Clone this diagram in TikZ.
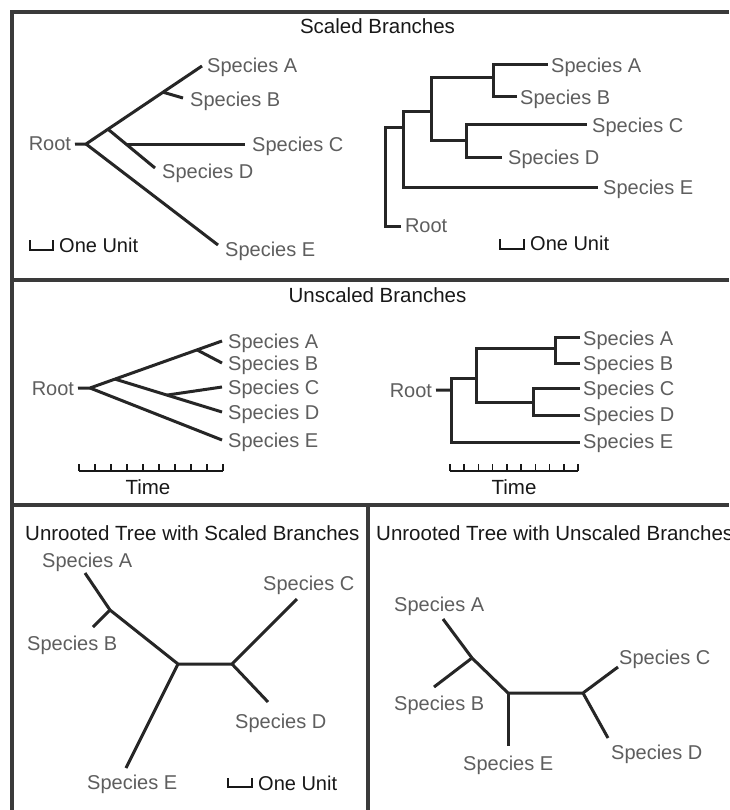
\documentclass[tikz,border=0pt]{standalone}
\usepackage{fontspec}
\setmainfont{Liberation Sans}
\usetikzlibrary{calc}
\definecolor{lab}{HTML}{5E5E5E}
\definecolor{ink}{HTML}{181818}
\definecolor{frame}{HTML}{3A3A3A}
\definecolor{br}{HTML}{262626}
\begin{document}
\begin{tikzpicture}[x=1pt,y=-1pt,
  sp/.style={inner sep=0pt, text=lab, font=\fontsize{20}{24}\selectfont, anchor=base west},
  rootlab/.style={sp, anchor=base east, outer xsep=4pt},
  ttl/.style={inner sep=0pt, text=ink, font=\fontsize{20.5}{24}\selectfont, anchor=base},
  blk/.style={inner sep=0pt, text=ink, font=\fontsize{20}{24}\selectfont, anchor=base west},
  branch/.style={draw=br, line width=3pt, line cap=butt, line join=miter},
  scalebar/.style={draw=ink, line width=1.6pt, line join=miter},
  frm/.style={draw=frame, line width=4pt}]
\useasboundingbox (0,0) rectangle (729,810);
\clip (0,0) rectangle (729,810);
\fill[white] (0,0) rectangle (729,810);

% ---------- frame ----------
\coordinate (fTR) at (729,12);
\coordinate (fTL) at (11.5,12);
\coordinate (fBL) at (11.5,810);
\coordinate (f1L) at (11.5,280);
\coordinate (f1R) at (729,280);
\coordinate (f2L) at (11.5,505);
\coordinate (f2R) at (729,505);
\coordinate (fMt) at (368,505);
\coordinate (fMb) at (368,810);
\draw[frm] (fTR) -- (fTL) -- (fBL);
\draw[frm] (f1L) -- (f1R);
\draw[frm] (f2L) -- (f2R);
\draw[frm] (fMt) -- (fMb);

% ---------- titles ----------
\node[ttl] (t1) at (377.5,34) {Scaled Branches};
\node[ttl] (t2) at (377.5,302) {Unscaled Branches};
\node[ttl, anchor=base west] (t3) at (25,540) {Unrooted Tree with Scaled Branches};
\node[ttl, anchor=base west] (t4) at (376,540) {Unrooted Tree with Unscaled Branches};

% ---------- top-left: scaled, diagonal ----------
\node[rootlab] (tlRoot) at (75,151) {Root};
\coordinate (tlR) at (86,144);
\coordinate (tlAe) at (202,66);
\coordinate (tlN1) at (108,129.2);
\coordinate (tlDe) at (155,168);
\coordinate (tlCn) at (126,144.1);
\coordinate (tlCe) at (245,144.1);
\coordinate (tlBn) at (163,92.2);
\coordinate (tlBe) at (183,98);
\coordinate (tlEe) at (218,245);
\draw[branch] (tlRoot.east) -- (tlR) -- (tlAe);
\draw[branch] (tlR) -- (tlEe);
\draw[branch] (tlN1) -- (tlDe);
\draw[branch] (tlCn) -- (tlCe);
\draw[branch] (tlBn) -- (tlBe);
\node[sp] (tlA) at (207,73) {Species A};
\node[sp] (tlB) at (190,107) {Species B};
\node[sp] (tlC) at (252,152) {Species C};
\node[sp] (tlD) at (162,179) {Species D};
\node[sp] (tlE) at (225,256) {Species E};
\coordinate (tlu1) at (30,240);
\coordinate (tlu2) at (30,250);
\coordinate (tlu3) at (53,250);
\coordinate (tlu4) at (53,240);
\draw[scalebar] (tlu1) -- (tlu2) -- (tlu3) -- (tlu4);
\node[blk] (tlUnit) at (59,252) {One Unit};

% ---------- top-right: scaled, rectangular ----------
\node[sp, outer xsep=4pt] (trRoot) at (401,233) {Root};
\coordinate (trR1) at (385,128);
\coordinate (trN1) at (403,128);
\coordinate (trV1t) at (403,112);
\coordinate (trV1b) at (403,188);
\coordinate (trEe) at (598,188);
\coordinate (trN2) at (431,112);
\coordinate (trV2t) at (431,78);
\coordinate (trV2b) at (431,141);
\coordinate (trN3) at (493,78);
\coordinate (trAt) at (493,65);
\coordinate (trBb) at (493,97);
\coordinate (trAe) at (548,65);
\coordinate (trBe) at (517,97);
\coordinate (trN4) at (466,141);
\coordinate (trCt) at (466,125);
\coordinate (trDb) at (466,158);
\coordinate (trCe) at (587,125);
\coordinate (trDe) at (502,158);
\draw[branch] (trRoot.west) -| (trR1) -- (trN1);
\draw[branch] (trN2) -- (trV1t) -- (trV1b) -- (trEe);
\draw[branch] (trN3) -- (trV2t) -- (trV2b) -- (trN4);
\draw[branch] (trBe) -- (trBb) -- (trAt) -- (trAe);
\draw[branch] (trDe) -- (trDb) -- (trCt) -- (trCe);
\node[sp] (trA) at (551,73) {Species A};
\node[sp] (trB) at (520,105) {Species B};
\node[sp] (trC) at (592,133) {Species C};
\node[sp] (trD) at (508,165) {Species D};
\node[sp] (trE) at (603,195) {Species E};
\coordinate (tru1) at (500,239);
\coordinate (tru2) at (500,249);
\coordinate (tru3) at (524,249);
\coordinate (tru4) at (524,239);
\draw[scalebar] (tru1) -- (tru2) -- (tru3) -- (tru4);
\node[blk] (trUnit) at (530,251) {One Unit};

% ---------- middle-left: unscaled, diagonal ----------
\node[rootlab] (mlRoot) at (78,395) {Root};
\coordinate (mlR) at (90,388);
\coordinate (mlAe) at (222,341);
\coordinate (mlCDn) at (115,379.1);
\coordinate (mlDe) at (222,412);
\coordinate (mlCn) at (167,395.1);
\coordinate (mlCe) at (222,387);
\coordinate (mlBn) at (197,349.9);
\coordinate (mlBe) at (222,363);
\coordinate (mlEe) at (222,440);
\draw[branch] (mlRoot.east) -- (mlR) -- (mlAe);
\draw[branch] (mlR) -- (mlEe);
\draw[branch] (mlCDn) -- (mlDe);
\draw[branch] (mlCn) -- (mlCe);
\draw[branch] (mlBn) -- (mlBe);
\node[sp] (mlA) at (228,348) {Species A};
\node[sp] (mlB) at (228,370) {Species B};
\node[sp] (mlC) at (228,394) {Species C};
\node[sp] (mlD) at (228,419) {Species D};
\node[sp] (mlE) at (228,447) {Species E};
\coordinate (mls0) at (79,471);
\coordinate (mls1) at (223,471);
\draw[scalebar] (mls0) -- (mls1);
\foreach \k in {0,...,9} {\draw[scalebar] ($(mls0)+(16*\k,0)$) -- ++(0,-7);}
\node[ttl] (mlTime) at (148,494) {Time};

% ---------- middle-right: unscaled, rectangular ----------
\node[rootlab] (mrRoot) at (436,397) {Root};
\coordinate (mrR) at (451,390);
\coordinate (mrV0t) at (451,378);
\coordinate (mrV0b) at (451,442);
\coordinate (mrN1) at (476,378);
\coordinate (mrEe) at (580,442);
\coordinate (mrV1t) at (476,348);
\coordinate (mrV1b) at (476,402);
\coordinate (mrN2) at (555,348);
\coordinate (mrN3) at (533,402);
\coordinate (mrAt) at (555,337);
\coordinate (mrBb) at (555,363);
\coordinate (mrAe) at (580,337);
\coordinate (mrBe) at (580,363);
\coordinate (mrCt) at (533,388);
\coordinate (mrDb) at (533,415);
\coordinate (mrCe) at (580,388);
\coordinate (mrDe) at (580,415);
\draw[branch] (mrRoot.east) -- (mrR);
\draw[branch] (mrN1) -- (mrV0t) -- (mrV0b) -- (mrEe);
\draw[branch] (mrN2) -- (mrV1t) -- (mrV1b) -- (mrN3);
\draw[branch] (mrBe) -- (mrBb) -- (mrAt) -- (mrAe);
\draw[branch] (mrDe) -- (mrDb) -- (mrCt) -- (mrCe);
\node[sp] (mrA) at (583,345) {Species A};
\node[sp] (mrB) at (583,370) {Species B};
\node[sp] (mrC) at (583,395) {Species C};
\node[sp] (mrD) at (583,421) {Species D};
\node[sp] (mrE) at (583,448) {Species E};
\coordinate (mrs0) at (450,471);
\coordinate (mrs1) at (578,471);
\draw[scalebar] (mrs0) -- (mrs1);
\foreach \k in {0,...,9} {\draw[scalebar] ($(mrs0)+(14.222*\k,0)$) -- ++(0,-7);}
\node[ttl] (mrTime) at (514,494) {Time};

% ---------- bottom-left: unrooted, scaled ----------
\coordinate (blN1) at (178,664);
\coordinate (blN2) at (232,664);
\coordinate (blAe) at (85,573);
\coordinate (blABn) at (110,610);
\coordinate (blBe) at (93,627);
\coordinate (blCe) at (297,599);
\coordinate (blDe) at (268,702);
\coordinate (blEe) at (126,768);
\draw[branch] (blAe) -- (blABn) -- (blN1) -- (blN2) -- (blCe);
\draw[branch] (blABn) -- (blBe);
\draw[branch] (blN1) -- (blEe);
\draw[branch] (blN2) -- (blDe);
\node[sp] (blA) at (42,567) {Species A};
\node[sp] (blB) at (27,650) {Species B};
\node[sp] (blC) at (263,590) {Species C};
\node[sp] (blD) at (235,728) {Species D};
\node[sp] (blE) at (87,789) {Species E};
\coordinate (blu1) at (228,778);
\coordinate (blu2) at (228,787);
\coordinate (blu3) at (252,787);
\coordinate (blu4) at (252,778);
\draw[scalebar] (blu1) -- (blu2) -- (blu3) -- (blu4);
\node[blk] (blUnit) at (258,790) {One Unit};

% ---------- bottom-right: unrooted, unscaled ----------
\coordinate (brAe) at (443,619);
\coordinate (brABn) at (472,658);
\coordinate (brBe) at (434,687);
\coordinate (brN1) at (508,693);
\coordinate (brN2) at (583,693);
\coordinate (brEe) at (508,746);
\coordinate (brCe) at (618,667);
\coordinate (brDe) at (608,738);
\draw[branch] (brAe) -- (brABn) -- (brN1) -- (brN2) -- (brCe);
\draw[branch] (brABn) -- (brBe);
\draw[branch] (brN1) -- (brEe);
\draw[branch] (brN2) -- (brDe);
\node[sp] (brA) at (394,611) {Species A};
\node[sp] (brB) at (394,710) {Species B};
\node[sp] (brC) at (619,664) {Species C};
\node[sp] (brD) at (611,759) {Species D};
\node[sp] (brE) at (463,770) {Species E};
\end{tikzpicture}
\end{document}
